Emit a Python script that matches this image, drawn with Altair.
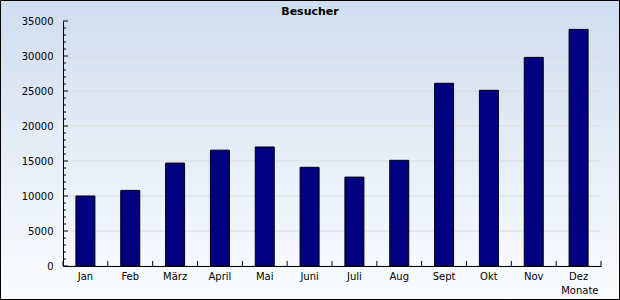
import altair as alt
import pandas as pd

months = ["Jan", "Feb", "März", "April", "Mai", "Juni", "Juli", "Aug", "Sept", "Okt", "Nov", "Dez"]
visitors = [10000, 10800, 14700, 16550, 17000, 14100, 12700, 15100, 26100, 25100, 29800, 33800]
major_ticks = [0, 5000, 10000, 15000, 20000, 25000, 30000, 35000]
minor_ticks = [1000, 2000, 3000, 4000, 6000, 7000, 8000, 9000, 11000, 12000, 13000, 14000,
               16000, 17000, 18000, 19000, 21000, 22000, 23000, 24000, 26000, 27000, 28000,
               29000, 31000, 32000, 33000, 34000]

W, H = 538, 245
PL, PT, PR, PB = 63, 21, 19, 34
FONT = "DejaVu Sans"

df = pd.DataFrame({"Monat": months, "Besucher": visitors})
major_df = pd.DataFrame({"Besucher": major_ticks})
minor_df = pd.DataFrame({"Besucher": minor_ticks})
one = pd.DataFrame({"k": [0]})

yscale = alt.Scale(domain=[0, 35000], nice=False)
xscale = alt.Scale(paddingInner=0.576, paddingOuter=0.288)

xaxis = alt.Axis(title="Monate", ticks=False, domainColor="black", domainWidth=1,
                 labelFont=FONT, labelFontSize=10, labelColor="black", labelPadding=5,
                 labelAngle=0, zindex=2,
                 titleFont=FONT, titleFontSize=10, titleFontWeight="normal",
                 titleColor="black", titleX=W - 3, titleY=27, titleAlign="right",
                 titleBaseline="alphabetic", titleAngle=0)
yaxis = alt.Axis(values=major_ticks, format="d", title=None, grid=False, ticks=False,
                 domainColor="black", domainWidth=1, labelFont=FONT,
                 labelFontSize=10, labelColor="black", labelPadding=10, zindex=2)

grad = alt.LinearGradient(
    gradient="linear",
    stops=[alt.GradientStop(color="#cfddef", offset=0),
           alt.GradientStop(color="#fbfdff", offset=1)],
    x1=0, x2=0, y1=0, y2=1,
)

bg = alt.Chart(one).mark_rect(fill=grad, stroke="black", strokeWidth=1).encode(
    x=alt.value(-PL + 0.5), x2=alt.value(W + PR - 0.5),
    y=alt.value(-PT + 0.5), y2=alt.value(H + PB - 0.5),
)

grid = alt.Chart(major_df).mark_rule(color="#dcdcdc", strokeWidth=1).encode(
    y=alt.Y("Besucher:Q", scale=yscale, axis=yaxis),
    x=alt.value(0), x2=alt.value(W),
)

bars = alt.Chart(df).mark_bar(color="#000080", stroke="black", strokeWidth=1).encode(
    x=alt.X("Monat:N", sort=months, scale=xscale, axis=xaxis),
    y=alt.Y("Besucher:Q", scale=yscale, axis=yaxis),
)

ymajor = alt.Chart(major_df).mark_rule(color="black").encode(
    y=alt.Y("Besucher:Q", scale=yscale, axis=yaxis), x=alt.value(0), x2=alt.value(5),
)
yminor = alt.Chart(minor_df).mark_rule(color="black").encode(
    y=alt.Y("Besucher:Q", scale=yscale, axis=yaxis), x=alt.value(0), x2=alt.value(3),
)
xticks = alt.Chart(df).mark_rule(color="black", xOffset=-W / 24).encode(
    x=alt.X("Monat:N", sort=months, scale=xscale, bandPosition=0.5, axis=xaxis),
    y=alt.value(H), y2=alt.value(H - 5),
)
xend = alt.Chart(one).mark_rule(color="black").encode(
    x=alt.value(W), y=alt.value(H), y2=alt.value(H - 5),
)
title = alt.Chart(one).mark_text(font=FONT, fontSize=11, fontWeight="bold", color="black",
                                 align="center", baseline="alphabetic").encode(
    x=alt.value(310 - PL), y=alt.value(14.5 - PT), text=alt.value("Besucher"),
)

chart = alt.layer(bg, grid, bars, ymajor, yminor, xticks, xend, title).properties(
    width=W, height=H,
    autosize=alt.AutoSizeParams(type="none"),
    padding={"left": PL, "top": PT, "right": PR, "bottom": PB},
    background="white",
).configure_view(stroke=None)

chart.save("out.html", embed_options={"renderer": "svg", "actions": False})
